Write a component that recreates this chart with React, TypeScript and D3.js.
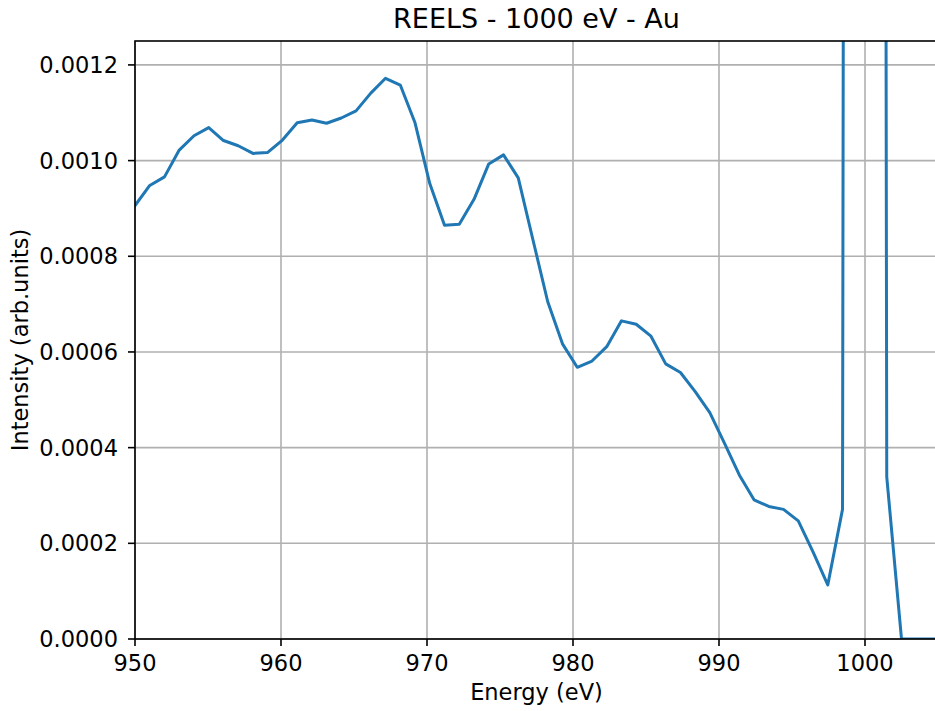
import React from "react";
import * as d3 from "d3";

const energies: number[] = [
  950.0, 951.01, 952.02, 953.03, 954.04, 955.05, 956.06, 957.07, 958.08, 959.09,
  960.1, 961.11, 962.12, 963.12, 964.13, 965.14, 966.15, 967.16, 968.17, 969.18,
  970.19, 971.2, 972.21, 973.22, 974.23, 975.24, 976.25, 977.26, 978.27, 979.28,
  980.29, 981.3, 982.31, 983.32, 984.33, 985.34, 986.35, 987.36, 988.37, 989.37,
  990.38, 991.39, 992.4, 993.41, 994.42, 995.43, 996.44, 997.45, 998.46, 999.47,
  1000.48, 1001.49, 1002.5, 1003.51, 1004.52, 1005.53,
];

const intensity: number[] = [
  0.000906, 0.000948, 0.000966, 0.001022, 0.001052, 0.001069, 0.001042, 0.001031, 0.001015, 0.001017,
  0.001043, 0.001079, 0.001085, 0.001078, 0.001089, 0.001104, 0.001141, 0.001172, 0.001158, 0.001079,
  0.000952, 0.000865, 0.000867, 0.000919, 0.000993, 0.001012, 0.000964, 0.000834, 0.000705, 0.000617,
  0.000568, 0.000581, 0.000611, 0.000665, 0.000658, 0.000633, 0.000575, 0.000557, 0.000517, 0.000473,
  0.000409, 0.000343, 0.000291, 0.000277, 0.000271, 0.000247, 0.000182, 0.000113, 0.000271, 0.02,
  0.02, 0.000339, 0.0, 0.0, 0.0, 0.0,
];

const xTicks: number[] = [950, 960, 970, 980, 990, 1000];
const yTicks: number[] = [0, 0.0002, 0.0004, 0.0006, 0.0008, 0.001, 0.0012];

const W = 935;
const H = 711;
const L = 135;
const R = 938;
const T = 41;
const B = 639;
const FONT = "'DejaVu Sans', sans-serif";
const FS = 22.5;

export default function App() {
  const x = d3.scaleLinear().domain([950, 1005]).range([L, R]);
  const y = d3.scaleLinear().domain([0, 0.00125]).range([B, T]);
  const pts = energies.map((e, i) => [e, intensity[i]] as [number, number]);
  const line = d3
    .line<[number, number]>()
    .x((d) => x(d[0]))
    .y((d) => y(d[1]));

  return (
    <svg
      width={W}
      height={H}
      style={{ position: "absolute", left: 0, top: 0, background: "#fff" }}
      fontFamily={FONT}
    >
      <rect x={0} y={0} width={W} height={H} fill="#fff" />
      <defs>
        <clipPath id="plotclip">
          <rect x={L} y={T} width={R - L} height={B - T} />
        </clipPath>
      </defs>
      {xTicks.map((t) => (
        <line key={"gx" + t} x1={x(t)} x2={x(t)} y1={T} y2={B} stroke="#b0b0b0" strokeWidth={1.6} />
      ))}
      {yTicks.map((t) => (
        <line key={"gy" + t} x1={L} x2={R} y1={y(t)} y2={y(t)} stroke="#b0b0b0" strokeWidth={1.6} />
      ))}
      <path
        d={line(pts) || ""}
        fill="none"
        stroke="#1f77b4"
        strokeWidth={3}
        strokeLinejoin="round"
        strokeLinecap="square"
        clipPath="url(#plotclip)"
      />
      <rect x={L} y={T} width={R - L} height={B - T} fill="none" stroke="#000" strokeWidth={1.6} />
      {xTicks.map((t) => (
        <g key={"tx" + t}>
          <line x1={x(t)} x2={x(t)} y1={B} y2={B + 7} stroke="#000" strokeWidth={1.6} />
          <text x={x(t)} y={B + 32} textAnchor="middle" fontSize={FS} fill="#000">
            {t}
          </text>
        </g>
      ))}
      {yTicks.map((t) => (
        <g key={"ty" + t}>
          <line x1={L - 7} x2={L} y1={y(t)} y2={y(t)} stroke="#000" strokeWidth={1.6} />
          <text x={L - 17} y={y(t)} dy="0.36em" textAnchor="end" fontSize={FS} fill="#000">
            {t.toFixed(4)}
          </text>
        </g>
      ))}
      <text x={(L + R) / 2} y={700} textAnchor="middle" fontSize={FS} fill="#000">
        Energy (eV)
      </text>
      <text
        transform={`translate(28, ${(T + B) / 2}) rotate(-90)`}
        textAnchor="middle"
        fontSize={FS}
        fill="#000"
      >
        Intensity (arb.units)
      </text>
      <text x={(L + R) / 2} y={28} textAnchor="middle" fontSize={27} fill="#000">
        REELS - 1000 eV - Au
      </text>
    </svg>
  );
}
